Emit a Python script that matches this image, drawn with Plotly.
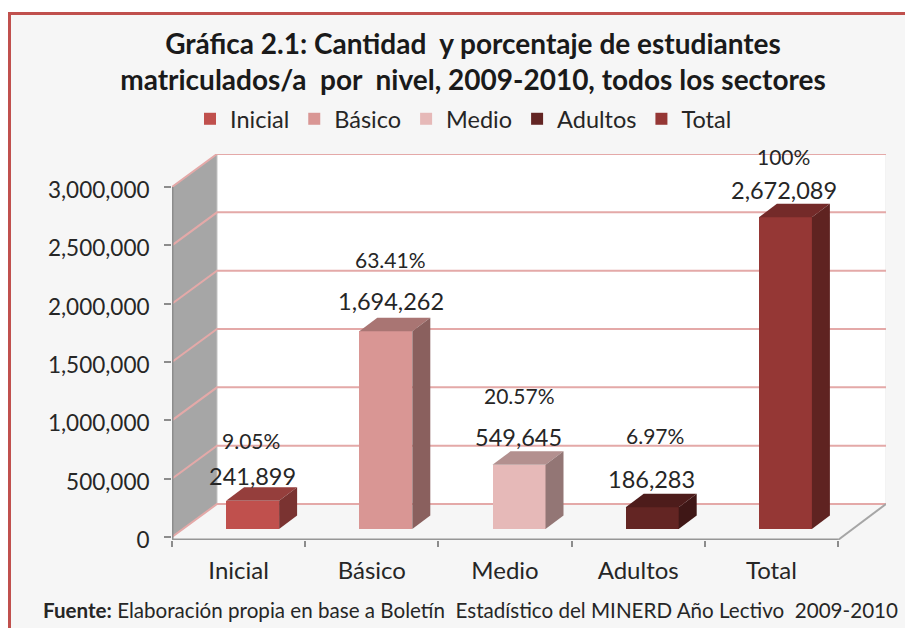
import plotly.graph_objects as go

categories = ["Inicial", "Básico", "Medio", "Adultos", "Total"]
values = [241899, 1694262, 549645, 186283, 2672089]
percents = ["9.05%", "63.41%", "20.57%", "6.97%", "100%"]
value_labels = ["241,899", "1,694,262", "549,645", "186,283", "2,672,089"]
y_ticks = [0, 500000, 1000000, 1500000, 2000000, 2500000, 3000000]
colors = ["#c0504d", "#d99694", "#e6b9b8", "#632523", "#953735"]

# The page has an 8px body margin: page coords = figure coords + 8
PAGE = 8
W, H = 913 - 2 * PAGE, 629 - PAGE - 1
L, R, T, B = 172, 886, 154, 540   # plot box in page pixels
PX_X = 133.2                 # px per category
PX_Y = 350 / 3000000         # px per unit
x_max = (R - L) / PX_X
y_min = -3 / PX_Y
y_max = 383 / PX_Y
wall_dx = 45 / PX_X
wall_dy = 33 / PX_Y
floor_y = 8 / PX_Y
bar_off = 14 / PX_X
bar_w = 53 / PX_X
bar_dx = 18 / PX_X
bar_dy = 13.5 / PX_Y
FONT = "Lato"
TXT = "#262626"
GRID = "#e4a9a8"


def shade(c, f):
    r, g, b = int(c[1:3], 16), int(c[3:5], 16), int(c[5:7], 16)
    return "rgb(%d,%d,%d)" % (r * f, g * f, b * f)


def px(x):
    return (x - L) / (R - L)


def py(y):
    return (B - y) / (B - T)


fig = go.Figure()
centers = [i + 0.5 + bar_off for i in range(5)]

for i, c in enumerate(categories):
    fig.add_trace(go.Bar(x=[centers[i]], y=[values[i]], base=[floor_y], width=[bar_w],
                         name=c, marker=dict(color=colors[i], line=dict(width=0)),
                         hoverinfo="skip"))
for i, c in enumerate(categories):
    x0, x1 = centers[i] - bar_w / 2, centers[i] + bar_w / 2
    y0, y1 = floor_y, floor_y + values[i]
    fig.add_trace(go.Scatter(x=[x0, x1, x1 + bar_dx, x0 + bar_dx, x0],
                             y=[y1, y1, y1 + bar_dy, y1 + bar_dy, y1],
                             mode="lines", fill="toself", fillcolor=shade(colors[i], 0.78),
                             line=dict(width=0), showlegend=False, hoverinfo="skip"))
    fig.add_trace(go.Scatter(x=[x1, x1 + bar_dx, x1 + bar_dx, x1, x1],
                             y=[y0, y0 + bar_dy, y1 + bar_dy, y1, y0],
                             mode="lines", fill="toself", fillcolor=shade(colors[i], 0.64),
                             line=dict(width=0), showlegend=False, hoverinfo="skip"))

shapes = [
    dict(type="rect", xref="paper", yref="paper", x0=px(9.5), x1=px(910.5), y0=py(13.5), y1=py(660),
         fillcolor="#f6f6f6", line=dict(color="#c0504d", width=3), layer="below"),
    dict(type="path", xref="x", yref="y",
         path=f"M {wall_dx},{wall_dy} L {x_max},{wall_dy} L {x_max},{3000000 + wall_dy} L {wall_dx},{3000000 + wall_dy} Z",
         fillcolor="#ffffff", line=dict(width=0), layer="below"),
    dict(type="path", xref="x", yref="y",
         path=f"M 0,0 L {wall_dx},{wall_dy} L {wall_dx},{3000000 + wall_dy} L 0,3000000 Z",
         fillcolor="#a6a6a6", line=dict(width=0), layer="below"),
    dict(type="line", xref="x", yref="y", x0=wall_dx, x1=wall_dx, y0=wall_dy, y1=3000000 + wall_dy,
         line=dict(color="#c4c4c4", width=1), layer="below"),
    dict(type="line", xref="x", yref="y", x0=x_max, x1=x_max, y0=wall_dy, y1=3000000 + wall_dy,
         line=dict(color="#e6e6e6", width=1), layer="below"),
]
for v in y_ticks:
    shapes.append(dict(type="path", xref="x", yref="y",
                       path=f"M 0,{v} L {wall_dx},{v + wall_dy} L {x_max},{v + wall_dy}",
                       line=dict(color=GRID, width=2), layer="below"))
shapes += [
    dict(type="line", xref="x", yref="y", x0=0, x1=0, y0=y_min, y1=3000000,
         line=dict(color="#8c8c8c", width=3), layer="below"),
    dict(type="line", xref="x", yref="y", x0=0, x1=5, y0=y_min, y1=y_min,
         line=dict(color="#969696", width=3), layer="below"),
    dict(type="line", xref="x", yref="y", x0=5, x1=x_max, y0=y_min, y1=wall_dy,
         line=dict(color="#a6a6a6", width=2), layer="below"),
]

annotations = []
val_yshift = [11, 17, 14, 15, 14]
val_xshift = [0, 5, -1, -1, -1]
pct_yshift = [47, 58, 56, 58, 47]
pct_xshift = [-2, 5, 0, 3, -2]
for i in range(5):
    annotations.append(dict(x=centers[i], y=floor_y + values[i] + bar_dy, text=value_labels[i],
                            showarrow=False, yshift=val_yshift[i], xshift=val_xshift[i],
                            font=dict(family=FONT, size=23.5, color=TXT)))
    annotations.append(dict(x=centers[i], y=floor_y + values[i] + bar_dy, text=percents[i],
                            showarrow=False, yshift=pct_yshift[i], xshift=pct_xshift[i],
                            font=dict(family=FONT, size=21, color=TXT)))
annotations.append(dict(xref="paper", yref="paper", x=px(470), y=py(610),
                        xanchor="center", yanchor="middle",
                        text="<b>Fuente:</b> Elaboración propia en base a Boletín  Estadístico del MINERD Año Lectivo  2009-2010",
                        showarrow=False, font=dict(family=FONT, size=20.6, color=TXT)))

fig.update_layout(
    width=W, height=H, autosize=False,
    margin=dict(l=L - PAGE, r=W - (R - PAGE), t=T - PAGE, b=H - (B - PAGE), pad=0),
    paper_bgcolor="#ffffff", plot_bgcolor="rgba(0,0,0,0)",
    barmode="overlay", bargap=0,
    font=dict(family=FONT, color=TXT),
    title=dict(text="<b>Gráfica 2.1: Cantidad  y porcentaje de estudiantes<br>matriculados/a  por  nivel, 2009-2010, todos los sectores</b>",
               x=(473 - PAGE) / W, xanchor="center", y=1 - (54 - PAGE) / H, yanchor="top",
               font=dict(family=FONT, size=28, color="#1a1a1a")),
    legend=dict(orientation="h", x=px(190), xanchor="left", y=py(119), yanchor="middle",
                bgcolor="rgba(0,0,0,0)", font=dict(family=FONT, size=23.5, color=TXT),
                itemclick=False, itemdoubleclick=False, traceorder="normal"),
    shapes=shapes, annotations=annotations,
    xaxis=dict(range=[0, x_max], showgrid=False, zeroline=False, showline=False,
               tickmode="array", tickvals=[i + 0.5 for i in range(5)], ticktext=categories,
               ticks="outside", ticklen=9, tickcolor="rgba(0,0,0,0)",
               tickfont=dict(family=FONT, size=24, color=TXT),
               minor=dict(tickmode="array", tickvals=[0, 1, 2, 3, 4, 5], ticks="outside",
                          ticklen=6, tickcolor="#8c8c8c", tickwidth=2)),
    yaxis=dict(range=[y_min, y_max], showgrid=False, zeroline=False, showline=False,
               tickmode="array", tickvals=y_ticks, tickformat=",d", ticks="outside", ticklen=7,
               tickcolor="#8c8c8c", tickwidth=2, ticklabelstandoff=10, ticklabelshift=3,
               tickfont=dict(family=FONT, size=22.5, color=TXT)),
)

fig.write_html("out.html")
